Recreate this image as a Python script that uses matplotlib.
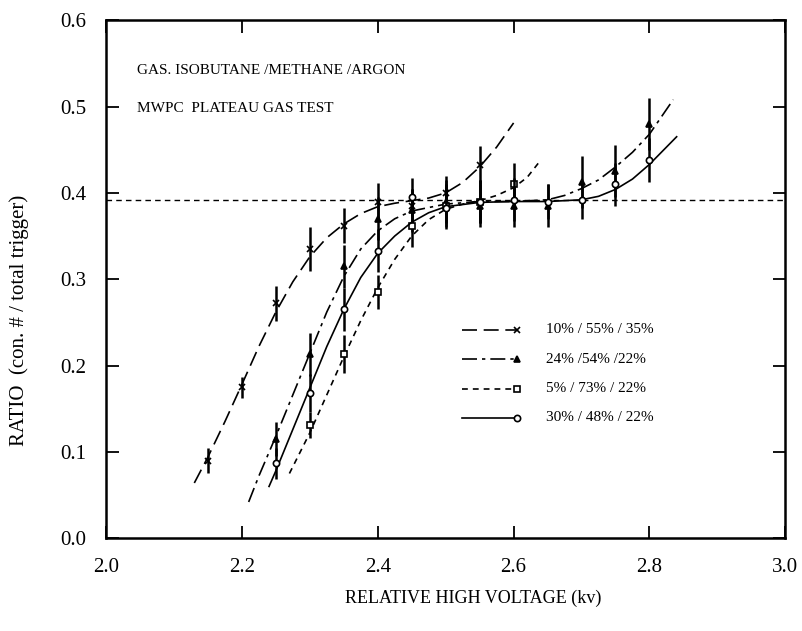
import matplotlib
matplotlib.use("Agg")
import matplotlib.pyplot as plt

plt.rcParams['font.family'] = ['Liberation Serif', 'DejaVu Serif']

# measured points (relative HV in kV, coincidence ratio, error)
hv_a = [2.15, 2.20, 2.25, 2.30, 2.35, 2.40, 2.45, 2.50, 2.55]
ratio_a = [0.090, 0.175, 0.272, 0.335, 0.362, 0.390, 0.385, 0.400, 0.432]
err_a = [0.015, 0.012, 0.020, 0.025, 0.020, 0.022, 0.020, 0.020, 0.022]

hv_b = [2.25, 2.30, 2.35, 2.40, 2.45, 2.50, 2.55, 2.60, 2.65, 2.70, 2.75, 2.80]
ratio_b = [0.115, 0.213, 0.315, 0.370, 0.380, 0.390, 0.385, 0.385, 0.385, 0.413, 0.425, 0.480]
err_b = [0.020, 0.025, 0.025, 0.025, 0.025, 0.025, 0.025, 0.025, 0.025, 0.030, 0.030, 0.030]

hv_c = [2.30, 2.35, 2.40, 2.45, 2.50, 2.55, 2.60]
ratio_c = [0.131, 0.213, 0.285, 0.362, 0.385, 0.390, 0.410]
err_c = [0.015, 0.022, 0.020, 0.025, 0.025, 0.025, 0.025]

hv_d = [2.25, 2.30, 2.35, 2.40, 2.45, 2.50, 2.55, 2.60, 2.65, 2.70, 2.75, 2.80]
ratio_d = [0.087, 0.168, 0.265, 0.333, 0.395, 0.383, 0.390, 0.392, 0.390, 0.392, 0.410, 0.438]
err_d = [0.018, 0.022, 0.025, 0.025, 0.022, 0.025, 0.025, 0.025, 0.020, 0.022, 0.025, 0.025]

# hand-drawn fit curves
fit_hv_a = [2.13, 2.15, 2.175, 2.20, 2.225, 2.25, 2.275, 2.30, 2.325, 2.35, 2.375,
            2.40, 2.425, 2.45, 2.475, 2.50, 2.525, 2.55, 2.575, 2.60]
fit_ra_a = [0.064, 0.094, 0.135, 0.178, 0.222, 0.262, 0.297, 0.326, 0.348, 0.364, 0.376,
            0.384, 0.388, 0.391, 0.394, 0.400, 0.412, 0.430, 0.453, 0.481]

fit_hv_b = [2.21, 2.225, 2.25, 2.275, 2.30, 2.325, 2.35, 2.375, 2.40, 2.425, 2.45, 2.50,
            2.55, 2.60, 2.65, 2.675, 2.70, 2.725, 2.75, 2.775, 2.80, 2.835]
fit_ra_b = [0.042, 0.072, 0.118, 0.166, 0.214, 0.262, 0.303, 0.335, 0.356, 0.370, 0.379, 0.387,
            0.390, 0.390, 0.392, 0.397, 0.405, 0.415, 0.430, 0.447, 0.468, 0.508]

fit_hv_c = [2.27, 2.30, 2.325, 2.35, 2.375, 2.40, 2.425, 2.45, 2.475, 2.50, 2.525,
            2.55, 2.575, 2.60, 2.62, 2.64]
fit_ra_c = [0.075, 0.122, 0.166, 0.210, 0.252, 0.290, 0.323, 0.350, 0.369, 0.381, 0.387,
            0.391, 0.397, 0.406, 0.418, 0.438]

fit_hv_d = [2.24, 2.25, 2.275, 2.30, 2.325, 2.35, 2.375, 2.40, 2.425, 2.45, 2.475, 2.50,
            2.55, 2.60, 2.65, 2.70, 2.725, 2.75, 2.775, 2.80, 2.84]
fit_ra_d = [0.060, 0.078, 0.126, 0.174, 0.222, 0.265, 0.302, 0.330, 0.350, 0.366, 0.377, 0.384,
            0.389, 0.390, 0.390, 0.392, 0.396, 0.404, 0.416, 0.433, 0.465]

plateau = 0.392
labels = ["10% / 55% / 35%", "24% /54% /22%", "5% / 73% / 22%", "30% / 48% / 22%"]

series = [
    (hv_a, ratio_a, err_a, fit_hv_a, fit_ra_a, 'x', 'k', (0, (9, 4))),
    (hv_b, ratio_b, err_b, fit_hv_b, fit_ra_b, '^', 'k', (0, (9, 3, 2, 3))),
    (hv_c, ratio_c, err_c, fit_hv_c, fit_ra_c, 's', 'w', (0, (3.5, 3))),
    (hv_d, ratio_d, err_d, fit_hv_d, fit_ra_d, 'o', 'w', '-'),
]

fig = plt.figure(figsize=(8.03, 6.31), dpi=100)
ax = fig.add_axes([0.132, 0.147, 0.846, 0.821])

ax.axhline(plateau, color='k', lw=1.0, ls=(0, (4, 3)))

for i, (hv, r, e, fx, fy, mk, face, ls) in enumerate(series):
    ax.plot(fx, fy, color='k', lw=1.2, ls=ls)
    ax.errorbar(hv, r, yerr=e, fmt='none', ecolor='k', elinewidth=1.8, capsize=0)
    ax.plot(hv, r, ls='none', marker=mk, ms=4.5, mfc=face, mec='k', mew=1.2)

    # legend key: line with the symbol at its right end
    ly = 0.402 - i * 0.0565
    ax.plot([0.524, 0.605], [ly, ly], transform=ax.transAxes, color='k', lw=1.2, ls=ls)
    ax.plot([0.605], [ly], transform=ax.transAxes, ls='none', marker=mk, ms=4.5,
            mfc=face, mec='k', mew=1.2)
    ax.text(0.647, ly, labels[i], transform=ax.transAxes, fontsize=11, va='center')

ax.text(2.046, 0.542, "GAS. ISOBUTANE /METHANE /ARGON", fontsize=11, va='center')
ax.text(2.046, 0.498, "MWPC  PLATEAU GAS TEST", fontsize=11, va='center')

ax.set_xlim(2.0, 3.0)
ax.set_ylim(0.0, 0.6)
ax.set_xticks([2.0, 2.2, 2.4, 2.6, 2.8, 3.0])
ax.set_yticks([0.0, 0.1, 0.2, 0.3, 0.4, 0.5, 0.6])
ax.set_xticklabels(["2.0", "2.2", "2.4", "2.6", "2.8", "3.0"])
ax.set_yticklabels(["0.0", "0.1", "0.2", "0.3", "0.4", "0.5", "0.6"])
ax.tick_params(direction='in', length=9, width=1.3, top=True, right=True,
               labelsize=15)
ax.tick_params(axis='x', pad=14)
ax.tick_params(axis='y', pad=14)
for s in ax.spines.values():
    s.set_linewidth(1.8)

ax.set_xlabel("RELATIVE HIGH VOLTAGE (kv)", fontsize=13)
ax.set_ylabel("RATIO  (con. # / total trigger)", fontsize=15)
ax.xaxis.set_label_coords(0.54, -0.1)
ax.yaxis.set_label_coords(-0.113, 0.42)

fig.savefig("out.png", dpi=100)
